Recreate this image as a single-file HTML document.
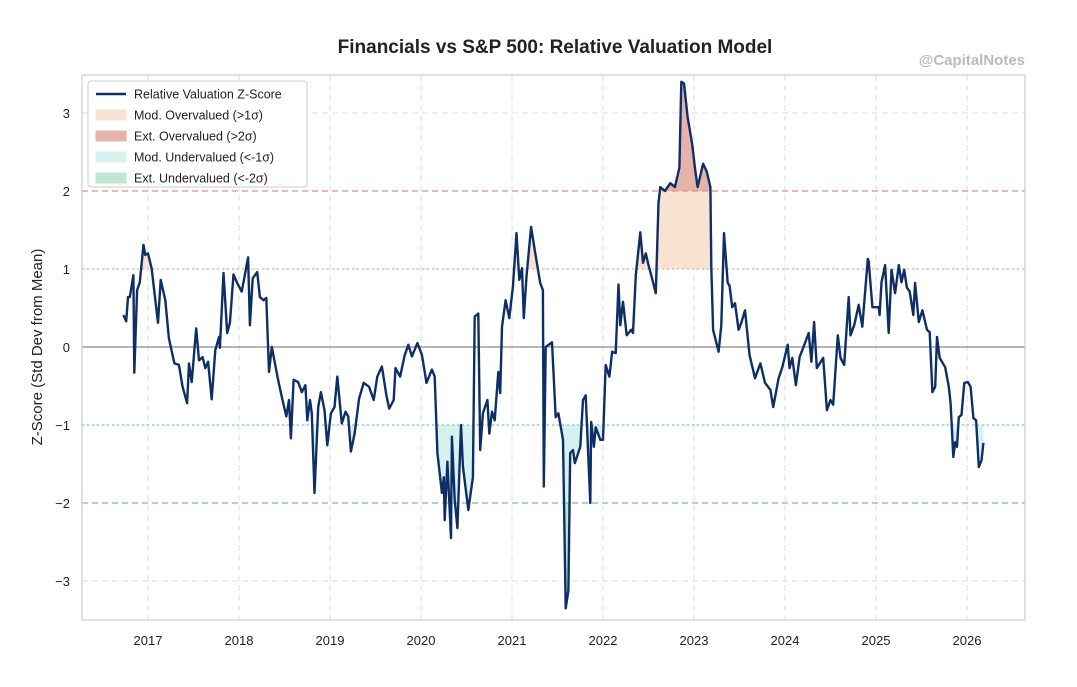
<!DOCTYPE html>
<html><head><meta charset="utf-8"><style>
body{margin:0;background:#fff;font-family:"Liberation Sans",sans-serif}
</style></head><body>
<svg id="chart" width="1077" height="682" xmlns="http://www.w3.org/2000/svg" font-family="Liberation Sans, sans-serif">
<text x="555" y="53" text-anchor="middle" font-size="19" font-weight="bold" fill="#222">Financials vs S&amp;P 500: Relative Valuation Model</text>
<text x="1025" y="65" text-anchor="end" font-size="15" font-weight="bold" fill="#bbb">@CapitalNotes</text>
<text transform="translate(42,347) rotate(-90)" text-anchor="middle" font-size="15" fill="#222">Z-Score (Std Dev from Mean)</text>
<g id="plot"></g>
</svg>
<script>
const dates=[2016.73,2016.76,2016.78,2016.80,2016.84,2016.85,2016.88,2016.91,2016.95,2016.97,2017.00,2017.04,2017.11,2017.14,2017.19,2017.23,2017.29,2017.34,2017.38,2017.43,2017.45,2017.48,2017.53,2017.56,2017.60,2017.63,2017.66,2017.70,2017.74,2017.78,2017.79,2017.83,2017.87,2017.90,2017.94,2017.98,2018.03,2018.06,2018.10,2018.12,2018.15,2018.20,2018.23,2018.27,2018.30,2018.33,2018.36,2018.43,2018.47,2018.52,2018.55,2018.57,2018.60,2018.65,2018.69,2018.73,2018.75,2018.78,2018.80,2018.83,2018.87,2018.90,2018.94,2018.97,2019.01,2019.05,2019.08,2019.13,2019.17,2019.20,2019.23,2019.27,2019.32,2019.37,2019.43,2019.48,2019.52,2019.57,2019.62,2019.65,2019.70,2019.72,2019.77,2019.82,2019.86,2019.90,2019.96,2020.01,2020.06,2020.12,2020.15,2020.18,2020.23,2020.25,2020.26,2020.29,2020.33,2020.34,2020.37,2020.40,2020.44,2020.46,2020.52,2020.57,2020.59,2020.63,2020.65,2020.68,2020.73,2020.75,2020.78,2020.81,2020.85,2020.87,2020.89,2020.93,2020.97,2021.01,2021.05,2021.08,2021.11,2021.13,2021.16,2021.21,2021.25,2021.31,2021.34,2021.35,2021.37,2021.44,2021.48,2021.51,2021.56,2021.59,2021.62,2021.64,2021.67,2021.69,2021.75,2021.78,2021.81,2021.86,2021.87,2021.90,2021.92,2021.97,2022.00,2022.03,2022.07,2022.10,2022.14,2022.17,2022.19,2022.22,2022.26,2022.31,2022.33,2022.36,2022.41,2022.44,2022.47,2022.50,2022.53,2022.58,2022.61,2022.63,2022.68,2022.74,2022.79,2022.84,2022.86,2022.89,2022.93,2022.98,2023.01,2023.04,2023.07,2023.10,2023.14,2023.18,2023.19,2023.21,2023.27,2023.30,2023.33,2023.37,2023.39,2023.42,2023.45,2023.49,2023.52,2023.56,2023.61,2023.67,2023.73,2023.78,2023.84,2023.87,2023.93,2023.97,2024.03,2024.05,2024.08,2024.12,2024.16,2024.22,2024.26,2024.29,2024.32,2024.35,2024.42,2024.46,2024.50,2024.53,2024.58,2024.61,2024.65,2024.70,2024.72,2024.76,2024.81,2024.85,2024.91,2024.92,2024.96,2025.03,2025.04,2025.06,2025.10,2025.14,2025.17,2025.21,2025.25,2025.28,2025.31,2025.34,2025.37,2025.41,2025.43,2025.47,2025.51,2025.56,2025.59,2025.62,2025.65,2025.67,2025.70,2025.76,2025.80,2025.82,2025.85,2025.87,2025.89,2025.91,2025.94,2025.97,2026.01,2026.04,2026.07,2026.10,2026.13,2026.16,2026.18];
const zscores=[0.41,0.33,0.64,0.64,0.92,-0.33,0.73,0.83,1.31,1.18,1.2,1.01,0.31,0.86,0.6,0.11,-0.21,-0.23,-0.51,-0.72,-0.21,-0.45,0.24,-0.17,-0.13,-0.27,-0.19,-0.67,-0.04,0.13,-0.01,0.95,0.18,0.31,0.93,0.82,0.71,0.9,1.15,0.28,0.88,0.96,0.64,0.6,0.63,-0.32,0.0,-0.42,-0.64,-0.89,-0.68,-1.17,-0.42,-0.45,-0.58,-0.49,-0.94,-0.68,-0.85,-1.87,-0.77,-0.58,-0.81,-1.26,-0.85,-0.77,-0.38,-0.98,-0.83,-0.89,-1.34,-1.11,-0.66,-0.46,-0.51,-0.68,-0.38,-0.25,-0.62,-0.79,-0.68,-0.27,-0.38,-0.11,0.03,-0.12,0.05,-0.1,-0.46,-0.29,-0.38,-1.36,-1.87,-1.67,-2.22,-1.47,-2.45,-1.15,-1.96,-2.32,-1.0,-1.53,-2.09,-1.67,0.39,0.43,-1.32,-0.85,-0.68,-1.11,-0.83,-0.94,-0.32,-0.59,0.26,0.6,0.37,0.77,1.46,0.86,1.01,0.37,0.92,1.54,1.24,0.82,0.73,-1.79,0.0,0.06,-0.9,-0.85,-1.19,-3.35,-3.12,-1.36,-1.32,-1.49,-1.28,-0.68,-0.62,-2.0,-0.96,-1.28,-1.03,-1.19,-1.19,-0.23,-0.38,-0.06,-0.08,0.8,0.28,0.58,0.15,0.22,0.18,0.92,1.47,1.08,1.2,1.05,0.92,0.69,1.85,2.05,2.0,2.1,2.05,2.3,3.4,3.38,2.95,2.6,2.3,2.05,2.2,2.35,2.25,2.05,1.03,0.22,-0.06,0.28,1.46,0.82,0.79,0.51,0.56,0.22,0.31,0.47,-0.1,-0.4,-0.21,-0.46,-0.55,-0.77,-0.4,-0.26,0.03,-0.27,-0.14,-0.49,-0.13,0.05,0.18,-0.19,0.32,-0.27,-0.14,-0.81,-0.68,-0.74,0.15,-0.14,-0.23,0.64,0.15,0.28,0.54,0.26,1.13,1.1,0.51,0.51,0.41,0.83,1.05,0.18,0.99,0.69,1.05,0.83,0.99,0.76,0.71,0.41,0.82,0.32,0.47,0.22,0.19,-0.58,-0.51,0.13,-0.14,-0.26,-0.51,-0.72,-1.41,-1.22,-1.28,-0.9,-0.87,-0.46,-0.45,-0.51,-0.91,-0.94,-1.54,-1.45,-1.23];
const xTicks=[2017,2018,2019,2020,2021,2022,2023,2024,2025,2026];
const yTicks=[-3,-2,-1,0,1,2,3];
const L=82,R=1025,T=75,B=620;
const x=d=>148+(d-2017)*91;
const y=v=>347-v*78;
const NS='http://www.w3.org/2000/svg';
const g=document.getElementById('plot');
function mk(tag,attrs,parent){const e=document.createElementNS(NS,tag);for(const k in attrs)e.setAttribute(k,attrs[k]);(parent||g).appendChild(e);return e;}
const defs=mk('defs',{});
function clip(id,y0,y1){const c=mk('clipPath',{id:id},defs);mk('rect',{x:L,y:y0,width:R-L,height:y1-y0},c);}
clip('cAbove1',T,y(1));clip('cAbove2',T,y(2));clip('cBelow1',y(-1),B);clip('cBelow2',y(-2),B);
// grid
yTicks.forEach(v=>{const l=mk('line',{x1:L,x2:R,y1:y(v),y2:y(v),stroke:'#dcdcdc','stroke-dasharray':'6,4'});


const t=mk('text',{x:L-12,y:y(v)+5,'text-anchor':'end','font-size':13,fill:'#222'});t.textContent=v<0?'\u2212'+(-v):v;

});
xTicks.forEach(d=>{const l=mk('line',{x1:x(d),x2:x(d),y1:T,y2:B,stroke:'#dcdcdc','stroke-dasharray':'6,4'});


const t=mk('text',{x:x(d),y:B+25,'text-anchor':'middle','font-size':13,fill:'#222'});t.textContent=d;

});
// fills
function area(th,clipId,fill,name){let p='M'+x(dates[0])+','+y(th);dates.forEach((d,i)=>p+='L'+x(d)+','+y(zscores[i]));p+='L'+x(dates[dates.length-1])+','+y(th)+'Z';
const e=mk('path',{d:p,fill:fill,'clip-path':'url(#'+clipId+')'});

}
area(1,'cAbove1','#f8e3d2','mod-overvalued-fill');
area(2,'cAbove2','#e6b3aa','ext-overvalued-fill');
area(-1,'cBelow1','#d6f1ee','mod-undervalued-fill');
area(-2,'cBelow2','#bfe6d0','ext-undervalued-fill');
// threshold lines
[[2,'#e0918a','6,4','ext-over-line'],[1,'#e6b085','2,3','mod-over-line'],[-1,'#7cc6bc','2,3','mod-under-line'],[-2,'#7fbf95','6,4','ext-under-line']].forEach(a=>{
const l=mk('line',{x1:L,x2:R,y1:y(a[0]),y2:y(a[0]),stroke:a[1],'stroke-dasharray':a[2],'stroke-width':1.2});

});
const z=mk('line',{x1:L,x2:R,y1:y(0),y2:y(0),stroke:'#8a8a8a','stroke-width':1.2});


// series
let pd='';dates.forEach((d,i)=>pd+=(i?'L':'M')+x(d).toFixed(1)+','+y(zscores[i]).toFixed(1));
const ln=mk('path',{d:pd,fill:'none',stroke:'#0e2f66','stroke-width':2.4,'stroke-linejoin':'round'});


const fr=mk('rect',{x:L,y:T,width:R-L,height:B-T,fill:'none',stroke:'#cccccc','stroke-width':1.2});


// legend
const lg=mk('g',{});


mk('rect',{x:88,y:81,width:219,height:106,rx:3,fill:'#fff','fill-opacity':0.9,stroke:'#ccc'},lg);
mk('line',{x1:96,x2:126,y1:94,y2:94,stroke:'#0e2f66','stroke-width':2.4},lg);
const items=[['Relative Valuation Z-Score',null],['Mod. Overvalued (>1σ)','#f8e3d2'],['Ext. Overvalued (>2σ)','#e6b3aa'],['Mod. Undervalued (<-1σ)','#d6f1ee'],['Ext. Undervalued (<-2σ)','#bfe6d0']];
items.forEach((it,i)=>{const yy=94+i*21;
if(it[1])mk('rect',{x:96,y:yy-5,width:30,height:10,fill:it[1],stroke:it[1]},lg);
const t=mk('text',{x:134,y:yy+4.5,'font-size':12.5,fill:'#222'},lg);t.textContent=it[0];

});
</script>
</body></html>
